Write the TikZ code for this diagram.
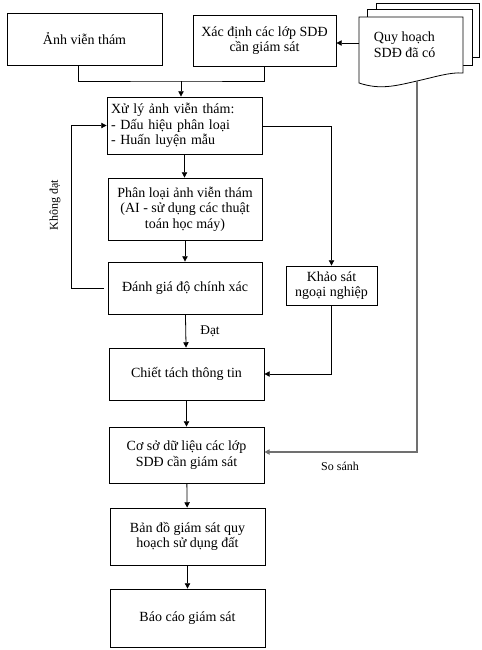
\documentclass[tikz,border=0pt]{standalone}
\usepackage{fontspec}
\setmainfont{Liberation Serif}
\usetikzlibrary{arrows.meta}
\definecolor{linegray}{RGB}{112,112,112}

\begin{document}
\begin{tikzpicture}[x=0.75pt,y=-0.75pt,
    box/.style={draw,line width=0.6pt,inner sep=2pt,align=center,
        font=\fontsize{10.5}{11.5}\selectfont},
    arr/.style={-{Triangle[length=4pt,width=4pt]},line width=0.6pt},
    grayarr/.style={arr,draw=linegray,line width=1.1pt},
    smalltext/.style={inner sep=1pt,font=\fontsize{9}{10}\selectfont}]
    \useasboundingbox (0,0) rectangle (482,650);

    % Boxes of the main flow
    \foreach \name/\cx/\cy/\w/\h/\txt in {
        anh/84.5/39/155/52/{Ảnh viễn thám},
        xacdinh/264.5/40.5/143/51/{Xác định các lớp SDĐ\\cần giám sát},
        phanloai/185/209/154/62/{Phân loại ảnh viễn thám\\(AI - sử dụng các thuật\\toán học máy)},
        danhgia/185/288/154/52/{Đánh giá độ chính xác},
        khaosat/331.5/285.5/91/39/{Khảo sát\\ngoại nghiệp},
        chiettach/186.5/374/155/52/{Chiết tách thông tin},
        coso/186.5/455/155/56/{Cơ sở dữ liệu các lớp\\SDĐ cần giám sát},
        bando/187.5/536.5/155/57/{Bản đồ giám sát quy\\hoạch sử dụng đất},
        baocao/187.5/618/155/58/{Báo cáo giám sát}} {
        \node[box,minimum width=\w*0.75pt,minimum height=\h*0.75pt] (\name) at (\cx,\cy) {\txt};
    }
    % Box with a left aligned list
    \node[box,align=left,inner xsep=3pt,text width=110.25pt,minimum height=42.75pt] (xuly) at (184.5,125.5)
        {Xử lý ảnh viễn thám:\\- Dấu hiệu phân loại\\- Huấn luyện mẫu};

    % Stack of documents
    \draw[line width=0.6pt,fill=white] (376,3) rectangle (479,57);
    \draw[line width=0.6pt,fill=white] (367,9) rectangle (472,65);
    \draw[line width=0.6pt,fill=white] (359,17) -- (463,17) -- (463,73)
        .. controls (450,72) and (435,77) .. (417,81)
        .. controls (395,86) and (380,90) .. (359,83) -- cycle;
    \node[anchor=west,align=left,inner sep=2pt,font=\fontsize{10.5}{12}\selectfont] (quyhoach) at (371,45) {Quy hoạch\\SDĐ đã có};
    \coordinate (docL) at (359,43);
    \coordinate (docB) at (417,81);

    % Labels
    \node[smalltext,rotate=90] (khongdat) at (55,205) {Không đạt};
    \node[inner sep=1pt,font=\fontsize{10}{11}\selectfont] (dat) at (210,331) {Đạt};
    \node[smalltext] (sosanh) at (340,466) {So sánh};

    % Connectors
    \draw[arr] (docL) -- (docL -| xacdinh.east);
    \coordinate (join) at (181,81);
    \draw[line width=0.6pt] ([xshift=-4.5pt]anh.south) |- (join) -| (xacdinh.south);
    \draw[arr] (join) -- (join |- xuly.north);
    \draw[arr] (xuly.south) -- (xuly.south |- phanloai.north);
    \draw[arr] (phanloai) -- (danhgia);
    \draw[arr] (danhgia) -- (chiettach);
    \draw[arr,shorten <=3pt] (danhgia.west) -- ++(-36,0) |- (xuly.west);
    \draw[arr] ([yshift=-1pt]xuly.east) -| (khaosat.north);
    \draw[arr] (khaosat.south) |- (chiettach.east);
    \draw[arr] (chiettach) -- (coso);
    \draw[arr] (coso) -- (bando);
    \draw[arr] (bando) -- (baocao);
    \draw[grayarr] (docB) |- ([yshift=2.25pt]coso.east);

\end{tikzpicture}
\end{document}
